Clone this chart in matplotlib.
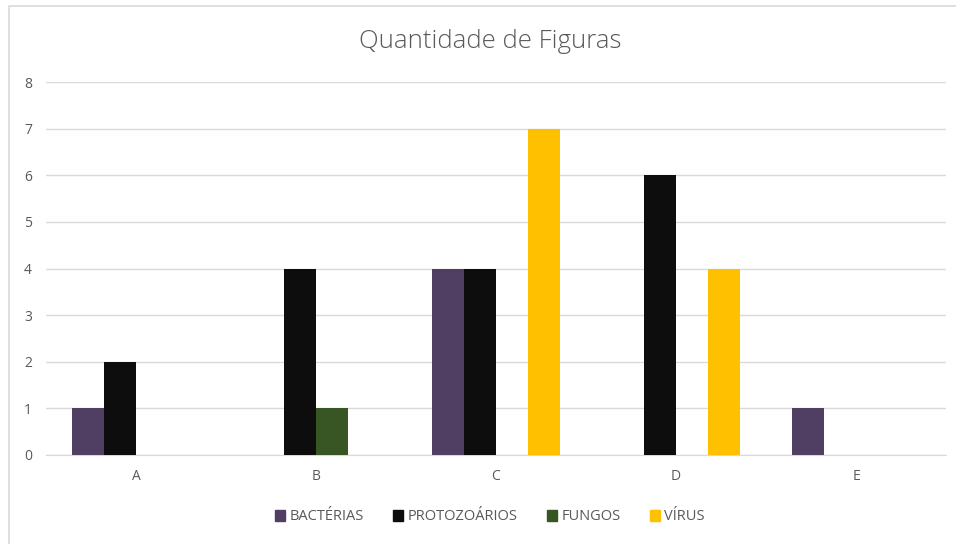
import matplotlib
matplotlib.use("Agg")
import matplotlib.pyplot as plt
import numpy as np
from matplotlib.patches import Rectangle

categories = ["A", "B", "C", "D", "E"]
series_names = ["BACTÉRIAS", "PROTOZOÁRIOS", "FUNGOS", "VÍRUS"]
bacterias = [1, 0, 4, 0, 1]
protozoarios = [2, 4, 4, 6, 0]
fungos = [0, 1, 0, 0, 0]
virus = [0, 0, 7, 4, 0]
colors = ["#513f63", "#0d0d0d", "#375623", "#ffc000"]
yticks = [0, 1, 2, 3, 4, 5, 6, 7, 8]

plt.rcParams['font.family'] = ['Open Sans', 'DejaVu Sans']

fig = plt.figure(figsize=(9.56, 5.44), dpi=100)
fig.patch.set_facecolor("white")
# outer chart border
fig.add_artist(Rectangle((9/956, -0.01), 950/956, 1 - 6/544 + 0.01, transform=fig.transFigure,
                         fill=False, edgecolor="#d9d9d9", linewidth=1.2))

ax = fig.add_axes([46/956, 1 - 455/544, 900/956, (455 - 82)/544])
x = np.arange(len(categories))
w = 32 / 180
data = [bacterias, protozoarios, fungos, virus]
for i, (vals, c) in enumerate(zip(data, colors)):
    ax.bar(x + (i - 1.5) * w, vals, width=w, color=c, label=series_names[i], zorder=3)

ax.set_xlim(-0.5, len(categories) - 0.5)
ax.set_ylim(0, 8)
ax.set_yticks(yticks)
ax.set_xticks(x)
ax.set_xticklabels(categories)
ax.grid(axis="y", color="#d9d9d9", linewidth=1, zorder=0)
for s in ["top", "right", "left"]:
    ax.spines[s].set_visible(False)
ax.spines["bottom"].set_color("#d9d9d9")
ax.tick_params(axis="both", length=0, colors="#595959", labelsize=10)
ax.tick_params(axis="y", pad=10)
ax.tick_params(axis="x", pad=10)

fig.text(490/956, 1 - 42/544, "Quantidade de Figuras", ha="center", va="center",
         fontsize=18.5, color="#595959", fontweight="light")

handles = [Rectangle((0, 0), 1, 1, color=c) for c in colors]
fig.legend(handles, series_names, loc="center", bbox_to_anchor=(490/956, 1 - 517/544),
           ncol=4, frameon=False, fontsize=10.5, handlelength=0.7, handleheight=0.7,
           handletextpad=0.3, columnspacing=2.0, labelcolor="#595959")

fig.savefig("out.png", dpi=100)
